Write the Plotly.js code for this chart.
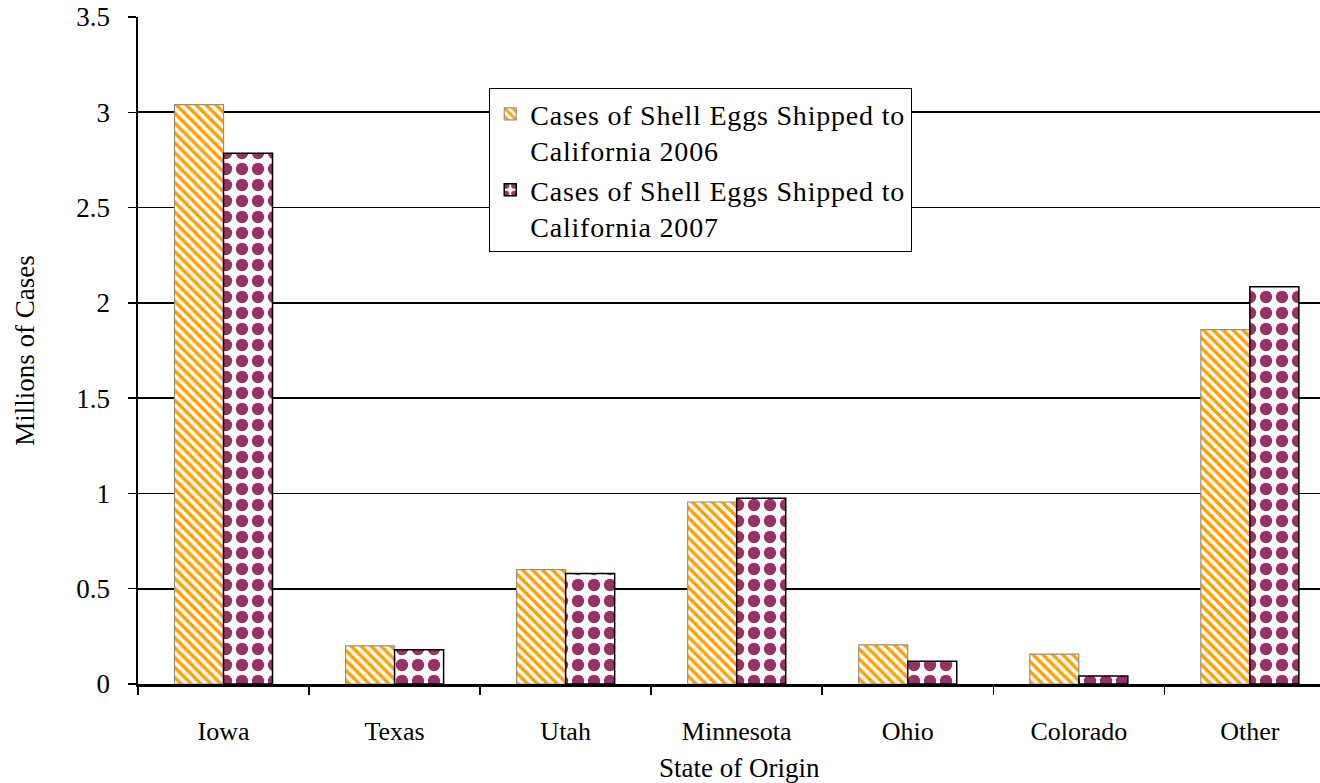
<!DOCTYPE html>
<html>
<head>
<meta charset="utf-8">
<script src="https://cdn.plot.ly/plotly-3.0.1.min.js"></script>
<style>
html,body{margin:0;padding:0;background:#fff;}
#chart{width:1320px;height:783px;}
.legendtext{letter-spacing:0.8px;}
</style>
</head>
<body>
<div id="chart"></div>
<script>
const categories = ["Iowa", "Texas", "Utah", "Minnesota", "Ohio", "Colorado", "Other"];
const cases2006 = [3.04, 0.20, 0.60, 0.955, 0.205, 0.157, 1.86];
const cases2007 = [2.785, 0.18, 0.58, 0.975, 0.12, 0.042, 2.085];
const name2006 = "Cases of Shell Eggs Shipped to<br>California 2006";
const name2007 = "Cases of Shell Eggs Shipped to<br>California 2007";
const yTickVals = [0, 0.5, 1, 1.5, 2, 2.5, 3, 3.5];
const yTickText = ["0", "0.5", "1", "1.5", "2", "2.5", "3", "3.5"];
const xTitle = "State of Origin";
const yTitle = "Millions of Cases";

const font = "Liberation Serif";

const traces = [
  {
    type: "bar", x: categories, y: cases2006, name: name2006,
    marker: {
      color: "#ffffff",
      pattern: {shape: "\\", fgcolor: "#FFA000", bgcolor: "#ffffff", size: 7, solidity: 0.5},
      line: {color: "#909090", width: 1.2}
    }
  },
  {
    type: "bar", x: categories, y: cases2007, name: name2007,
    marker: {
      color: "#ffffff",
      pattern: {shape: ".", fgcolor: "#993366", bgcolor: "#ffffff", size: 16, solidity: 0.47},
      line: {color: "#000000", width: 1.5}
    }
  }
];

const layout = {
  width: 1320, height: 783,
  margin: {l: 138, r: 0, t: 17, b: 99},
  paper_bgcolor: "#ffffff", plot_bgcolor: "#ffffff",
  font: {family: font, size: 26, color: "#000"},
  barmode: "group", bargap: 0.427, bargroupgap: 0,
  showlegend: true,
  legend: {
    x: 0.297, y: 0.8936, xanchor: "left", yanchor: "top",
    bgcolor: "#ffffff", bordercolor: "#000", borderwidth: 1.2,
    font: {family: font, size: 28, color: "#000"},
    traceorder: "normal", itemwidth: 30, valign: "top"
  },
  xaxis: {
    range: [-0.5, 6.41],
    showline: true, linecolor: "#000", linewidth: 2.5,
    ticks: "outside", tickson: "boundaries", ticklen: 8, tickcolor: "#000", tickwidth: 1.5,
    ticklabelstandoff: 22,
    tickfont: {family: font, size: 26, color: "#000"},
    showgrid: false, zeroline: false
  },
  yaxis: {
    range: [0, 3.5], tickvals: yTickVals, ticktext: yTickText,
    showline: true, linecolor: "#000", linewidth: 2.5,
    ticks: "outside", ticklen: 8, tickcolor: "#000", tickwidth: 1.5,
    ticklabelstandoff: 12,
    tickfont: {family: font, size: 27, color: "#000"},
    showgrid: true, gridcolor: "#000", gridwidth: 1.6,
    zeroline: false,
    title: {text: yTitle, font: {family: font, size: 27, color: "#000"}, standoff: 34}
  },
  annotations: [
    {text: xTitle, xref: "paper", yref: "paper", x: 0.5093, y: 0, xanchor: "center", yanchor: "middle",
     yshift: -84, showarrow: false, font: {family: font, size: 27, color: "#000"}}
  ]
};

Plotly.newPlot("chart", traces, layout, {displayModeBar: false, staticPlot: true});
</script>
</body>
</html>
